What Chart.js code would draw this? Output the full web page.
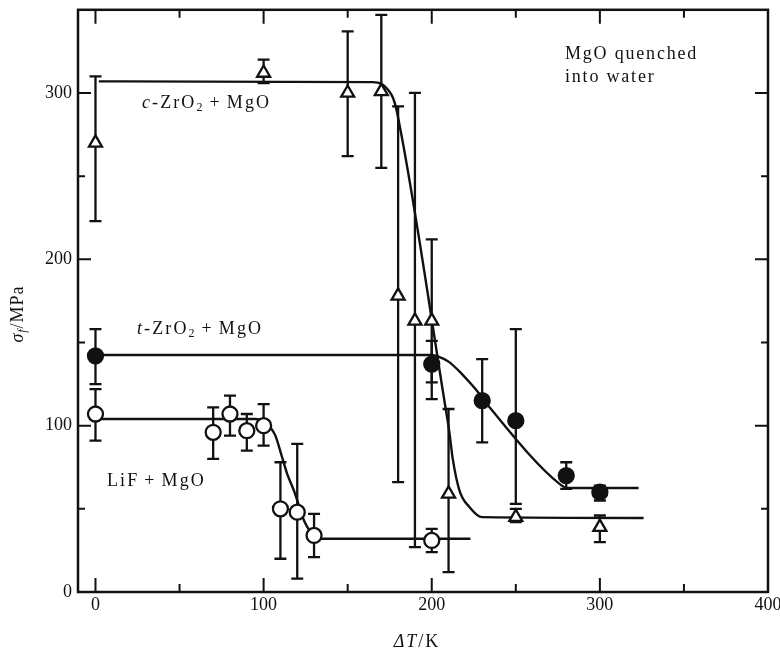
<!DOCTYPE html>
<html>
<head>
<meta charset="utf-8">
<script src="https://cdn.jsdelivr.net/npm/chart.js@4.4.0/dist/chart.umd.min.js"></script>
<style>
  html, body { margin: 0; padding: 0; background: #fff; }
  #wrap { width: 780px; height: 654px; }
</style>
</head>
<body>
<div id="wrap"><canvas id="chart" width="780" height="654"></canvas></div>
<script>
// Ejes
const xTicks = [0, 100, 200, 300, 400];
const yTicks = [0, 100, 200, 300];
const xMinorTicks = [50, 150, 250, 350];
const yMinorTicks = [50, 150, 250];

// c-ZrO2 + MgO (triangulos)
const cX = [0, 100, 150, 170, 180, 190, 200, 210, 250, 300];
const cY = [270, 312, 300, 301, 178, 163, 163, 59, 45, 39];
const cLo = [223, 306, 262, 255, 66, 27, 116, 12, 42, 30];
const cHi = [310, 320, 337, 347, 292, 300, 212, 110, 50, 46];

// t-ZrO2 + MgO (circulos llenos)
const tX = [0, 200, 230, 250, 280, 300];
const tY = [142, 137, 115, 103, 70, 60];
const tLo = [125, 126, 90, 53, 62, 55];
const tHi = [158, 151, 140, 158, 78, 64];

// LiF + MgO (circulos abiertos)
const lX = [0, 70, 80, 90, 100, 110, 120, 130, 200];
const lY = [107, 96, 107, 97, 100, 50, 48, 34, 31];
const lLo = [91, 80, 94, 85, 88, 20, 8, 21, 24];
const lHi = [122, 111, 118, 107, 113, 78, 89, 47, 38];

// Curvas ajustadas
const cCurveX = [2, 165, 170, 174, 177, 179, 208, 210.5, 212.5, 216.5, 222.5, 230, 326];
const cCurveY = [307, 306.5, 305.5, 302, 297, 290, 112, 96, 80, 61, 51, 45, 44.5];
const tCurveX = [2, 200, 204, 210, 218, 226, 234, 276, 281, 323];
const tCurveY = [142.5, 142.5, 141.5, 138.5, 131, 122, 111.5, 65, 62.5, 62.5];
const lCurveX = [2, 95, 100, 104, 107, 111, 114, 118, 121, 124, 128, 133, 223];
const lCurveY = [104, 104, 103, 99, 94, 81, 71, 61, 52, 43, 36, 32, 32];

const SERIF = "'Liberation Serif', 'DejaVu Serif', serif";
const INK = '#111';

function pts(xs, ys) {
    return xs.map((x, i) => ({ x: x, y: ys[i] }));
}

function curveDataset(xs, ys) {
    return {
        type: 'line',
        data: pts(xs, ys),
        borderColor: INK,
        borderWidth: 2.4,
        pointRadius: 0,
        cubicInterpolationMode: 'monotone',
        fill: false,
        order: 3
    };
}

function markerDataset(xs, ys, style, fillColor, radius) {
    return {
        type: 'line',
        data: pts(xs, ys),
        showLine: false,
        pointStyle: style,
        pointRadius: radius,
        pointBorderWidth: 2.3,
        pointBorderColor: INK,
        pointBackgroundColor: fillColor,
        order: 1
    };
}

// Dibujar texto con partes (subindices, cursivas)
function drawRich(ctx, x, y, parts, spacing) {
    ctx.letterSpacing = (spacing || 0) + 'px';
    let cx = x;
    parts.forEach(p => {
        ctx.font = p.font;
        cx += p.before || 0;
        ctx.fillText(p.t, cx, y + (p.dy || 0));
        cx += ctx.measureText(p.t).width + (p.after || 0);
    });
    return cx - x;
}

function richWidth(ctx, parts, spacing) {
    ctx.letterSpacing = (spacing || 0) + 'px';
    let w = 0;
    parts.forEach(p => {
        ctx.font = p.font;
        w += (p.before || 0) + ctx.measureText(p.t).width + (p.after || 0);
    });
    return w;
}

const f18 = '18px ' + SERIF;
const i18 = 'italic 18px ' + SERIF;
const f12 = '12px ' + SERIF;
const i12 = 'italic 12px ' + SERIF;

// Barras de error (debajo de los marcadores)
const errorBarsPlugin = {
    id: 'errorBars',
    beforeDatasetsDraw(chart) {
        const ctx = chart.ctx;
        const xs = chart.scales.x, ys = chart.scales.y;
        const groups = [[cX, cLo, cHi], [tX, tLo, tHi], [lX, lLo, lHi]];
        ctx.save();
        ctx.strokeStyle = INK;
        ctx.lineWidth = 2.3;
        groups.forEach(([X, lo, hi]) => {
            X.forEach((v, i) => {
                const px = xs.getPixelForValue(v);
                const p1 = ys.getPixelForValue(lo[i]);
                const p2 = ys.getPixelForValue(hi[i]);
                ctx.beginPath();
                ctx.moveTo(px, p1); ctx.lineTo(px, p2);
                ctx.moveTo(px - 6, p1); ctx.lineTo(px + 6, p1);
                ctx.moveTo(px - 6, p2); ctx.lineTo(px + 6, p2);
                ctx.stroke();
            });
        });
        ctx.restore();
    }
};

// Marco, marcas hacia adentro y textos
const framePlugin = {
    id: 'frame',
    afterDraw(chart) {
        const ctx = chart.ctx;
        const a = chart.chartArea;
        const xs = chart.scales.x, ys = chart.scales.y;
        ctx.save();
        ctx.strokeStyle = INK;
        ctx.lineWidth = 2.5;
        ctx.strokeRect(a.left, a.top, a.right - a.left, a.bottom - a.top);

        ctx.lineWidth = 2;
        ctx.beginPath();
        const xt = (v, len) => {
            const px = xs.getPixelForValue(v);
            ctx.moveTo(px, a.bottom); ctx.lineTo(px, a.bottom - len);
            ctx.moveTo(px, a.top); ctx.lineTo(px, a.top + len);
        };
        const yt = (v, len) => {
            const py = ys.getPixelForValue(v);
            ctx.moveTo(a.left, py); ctx.lineTo(a.left + len, py);
            ctx.moveTo(a.right, py); ctx.lineTo(a.right - len, py);
        };
        xTicks.filter(v => v < 400).forEach(v => xt(v, 14));
        xMinorTicks.forEach(v => xt(v, 8));
        yTicks.filter(v => v > 0).forEach(v => yt(v, 13));
        yMinorTicks.forEach(v => yt(v, 7));
        ctx.stroke();

        ctx.fillStyle = INK;
        ctx.textBaseline = 'alphabetic';
        ctx.textAlign = 'left';

        // Etiquetas de series
        drawRich(ctx, 142, 108, [
            { t: 'c', font: i18 }, { t: '-ZrO', font: f18 },
            { t: '2', font: f12, dy: 3 },
            { t: '+', font: f18, before: 5, after: 5 }, { t: 'MgO', font: f18 }
        ], 2.1);
        drawRich(ctx, 137, 334, [
            { t: 't', font: i18 }, { t: '-ZrO', font: f18 },
            { t: '2', font: f12, dy: 3 },
            { t: '+', font: f18, before: 5, after: 5 }, { t: 'MgO', font: f18 }
        ], 2.1);
        drawRich(ctx, 107, 486, [
            { t: 'LiF', font: f18 },
            { t: '+', font: f18, before: 5, after: 5 }, { t: 'MgO', font: f18 }
        ], 2.1);
        drawRich(ctx, 565, 59, [{ t: 'MgO quenched', font: f18 }], 1.8);
        drawRich(ctx, 565, 82, [{ t: 'into water', font: f18 }], 1.8);

        // Titulo eje x
        const xParts = [
            { t: 'Δ', font: i18 }, { t: 'T', font: i18 },
            { t: '/', font: f18 }, { t: 'K', font: f18 }
        ];
        const wx = richWidth(ctx, xParts, 2);
        drawRich(ctx, 417 - wx / 2, 647, xParts, 2);

        // Titulo eje y
        const yParts = [
            { t: 'σ', font: i18 }, { t: 'f', font: i12, dy: 3 },
            { t: '/MPa', font: f18 }
        ];
        const wy = richWidth(ctx, yParts, 1);
        ctx.translate(23, 314);
        ctx.rotate(-Math.PI / 2);
        drawRich(ctx, -wy / 2, 0, yParts, 1);
        ctx.restore();
    }
};

function noPad(s) {
    s.paddingTop = 0;
    s.paddingBottom = 0;
    s.paddingLeft = 0;
    s.paddingRight = 0;
}

const ctx = document.getElementById('chart').getContext('2d');
new Chart(ctx, {
    type: 'line',
    data: {
        datasets: [
            curveDataset(cCurveX, cCurveY),
            curveDataset(tCurveX, tCurveY),
            curveDataset(lCurveX, lCurveY),
            markerDataset(cX, cY, 'triangle', '#fff', 7.5),
            markerDataset(tX, tY, 'circle', INK, 7.5),
            markerDataset(lX, lY, 'circle', '#fff', 7.5)
        ]
    },
    options: {
        responsive: false,
        animation: false,
        devicePixelRatio: 1,
        layout: { padding: { top: 4, right: 12, left: 0, bottom: 0 } },
        plugins: {
            legend: { display: false },
            tooltip: { enabled: false }
        },
        scales: {
            x: {
                type: 'linear',
                min: -10.4,
                max: 400,
                afterBuildTicks: s => { s.ticks = xTicks.map(v => ({ value: v })); },
                afterFit: s => { s.height = 62; noPad(s); },
                grid: { display: false, drawTicks: false, tickLength: 0 },
                border: { display: false },
                ticks: { font: { family: SERIF, size: 18 }, color: INK, padding: 2, maxRotation: 0 }
            },
            y: {
                type: 'linear',
                min: 0,
                max: 350,
                afterBuildTicks: s => { s.ticks = yTicks.map(v => ({ value: v })); },
                afterFit: s => { s.width = 78; noPad(s); },
                grid: { display: false, drawTicks: false, tickLength: 0 },
                border: { display: false },
                ticks: { font: { family: SERIF, size: 18 }, color: INK, padding: 6 }
            }
        }
    },
    plugins: [errorBarsPlugin, framePlugin]
});
</script>
</body>
</html>
